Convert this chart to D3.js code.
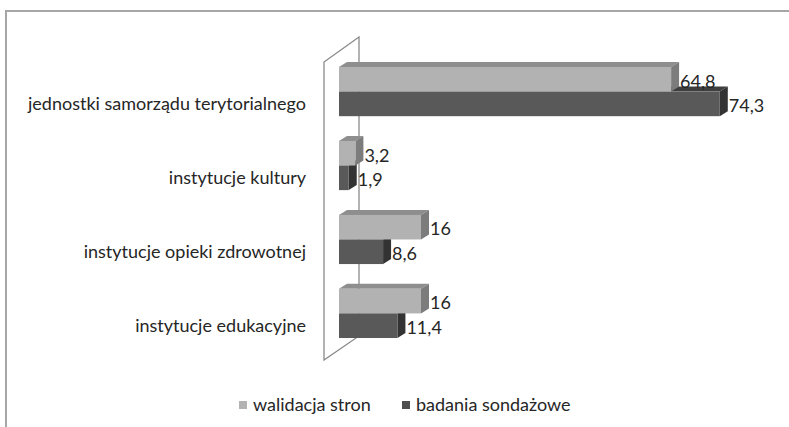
<!DOCTYPE html>
<html>
<head>
<meta charset="utf-8">
<script src="https://cdn.jsdelivr.net/npm/d3@7"></script>
<style>
  body { margin: 0; background: #fff; }
  svg { display: block; font-family: Lato, "Open Sans", sans-serif; }
</style>
</head>
<body>
<div id="chartArea"></div>
<script>
const categories = [
  "jednostki samorządu terytorialnego",
  "instytucje kultury",
  "instytucje opieki zdrowotnej",
  "instytucje edukacyjne"
];
const seriesNames = ["walidacja stron", "badania sondażowe"];
const walidacja = [64.8, 3.2, 16, 16];
const badania = [74.3, 1.9, 8.6, 11.4];
const valueLabels = [["64,8", "3,2", "16", "16"], ["74,3", "1,9", "8,6", "11,4"]];

const width = 789, height = 427;
const fontSize = 18;
const svg = d3.select("#chartArea").append("svg")
  .attr("width", width).attr("height", height);

// outer frame (cut off on the right and bottom)
svg.append("rect")
  .attr("x", 6).attr("y", 11).attr("width", 820).attr("height", 440)
  .attr("fill", "none").attr("stroke", "#a6a6a6").attr("stroke-width", 2);

const x = d3.scaleLinear().domain([0, 80]).range([339, 749]);
const y = d3.scaleBand().domain(categories).range([50, 355])
  .paddingInner(0.335).paddingOuter(0.23);
const ySub = d3.scaleBand().domain(seriesNames).range([0, y.bandwidth()]);

const dx = 8, dy = 5;
const colors = {
  "walidacja stron": { front: "#b2b2b2", top: "#8e8e8e", side: "#7c7c7c", key: "#b2b2b2" },
  "badania sondażowe": { front: "#595959", top: "#3e3e3e", side: "#333333", key: "#4f4f4f" }
};

// side wall of the 3D plot
const wallL = 324, wallR = 359, wallTop = 62, wallBot = 360;
svg.append("path")
  .attr("d", `M${wallL},${wallBot} L${wallL},${wallTop} L${wallR},${wallTop - 25} L${wallR},${wallBot - 24} Z`)
  .attr("fill", "none").attr("stroke", "#8a8a8a").attr("stroke-width", 1.3);

const rows = categories.map((c, i) => ({ cat: c, vals: [walidacja[i], badania[i]], i }));

const g = svg.append("g");
rows.forEach(r => {
  // dark series first so the light bar covers its top face
  [1, 0].forEach(s => {
    const name = seriesNames[s];
    const v = r.vals[s];
    const x0 = x(0), x1 = x(v);
    const y0 = y(r.cat) + ySub(name), h = ySub.bandwidth();
    const c = colors[name];
    const bar = g.append("g");
    bar.append("polygon")
      .attr("points", [[x0, y0], [x0 + dx, y0 - dy], [x1 + dx, y0 - dy], [x1, y0]].join(" "))
      .attr("fill", c.top);
    bar.append("polygon")
      .attr("points", [[x1, y0], [x1 + dx, y0 - dy], [x1 + dx, y0 + h - dy], [x1, y0 + h]].join(" "))
      .attr("fill", c.side);
    bar.append("rect")
      .attr("x", x0).attr("y", y0).attr("width", x1 - x0).attr("height", h)
      .attr("fill", c.front);
  });
});

// data labels
rows.forEach(r => {
  [0, 1].forEach(s => {
    const name = seriesNames[s];
    g.append("text")
      .attr("x", x(r.vals[s]) + dx + 1)
      .attr("y", y(r.cat) + ySub(name) + ySub.bandwidth() / 2 + 2)
      .attr("dy", "0.35em")
      .attr("font-size", fontSize).attr("fill", "#262626")
      .text(valueLabels[s][r.i]);
  });
});

// category labels
svg.append("g").selectAll("text").data(categories).join("text")
  .attr("x", 306)
  .attr("y", d => y(d) + y.bandwidth() / 2 + 12)
  .attr("dy", "0.35em")
  .attr("text-anchor", "end")
  .attr("font-size", fontSize).attr("fill", "#262626")
  .text(d => d);

// legend
const legend = svg.append("g").attr("transform", "translate(0,405)");
const legendX = [239, 402];
seriesNames.forEach((n, i) => {
  legend.append("rect").attr("x", legendX[i]).attr("y", -4).attr("width", 8).attr("height", 8)
    .attr("fill", colors[n].key);
  legend.append("text").attr("x", legendX[i] + 14).attr("y", 0).attr("dy", "0.35em")
    .attr("font-size", fontSize).attr("fill", "#262626").text(n);
});
</script>
</body>
</html>
